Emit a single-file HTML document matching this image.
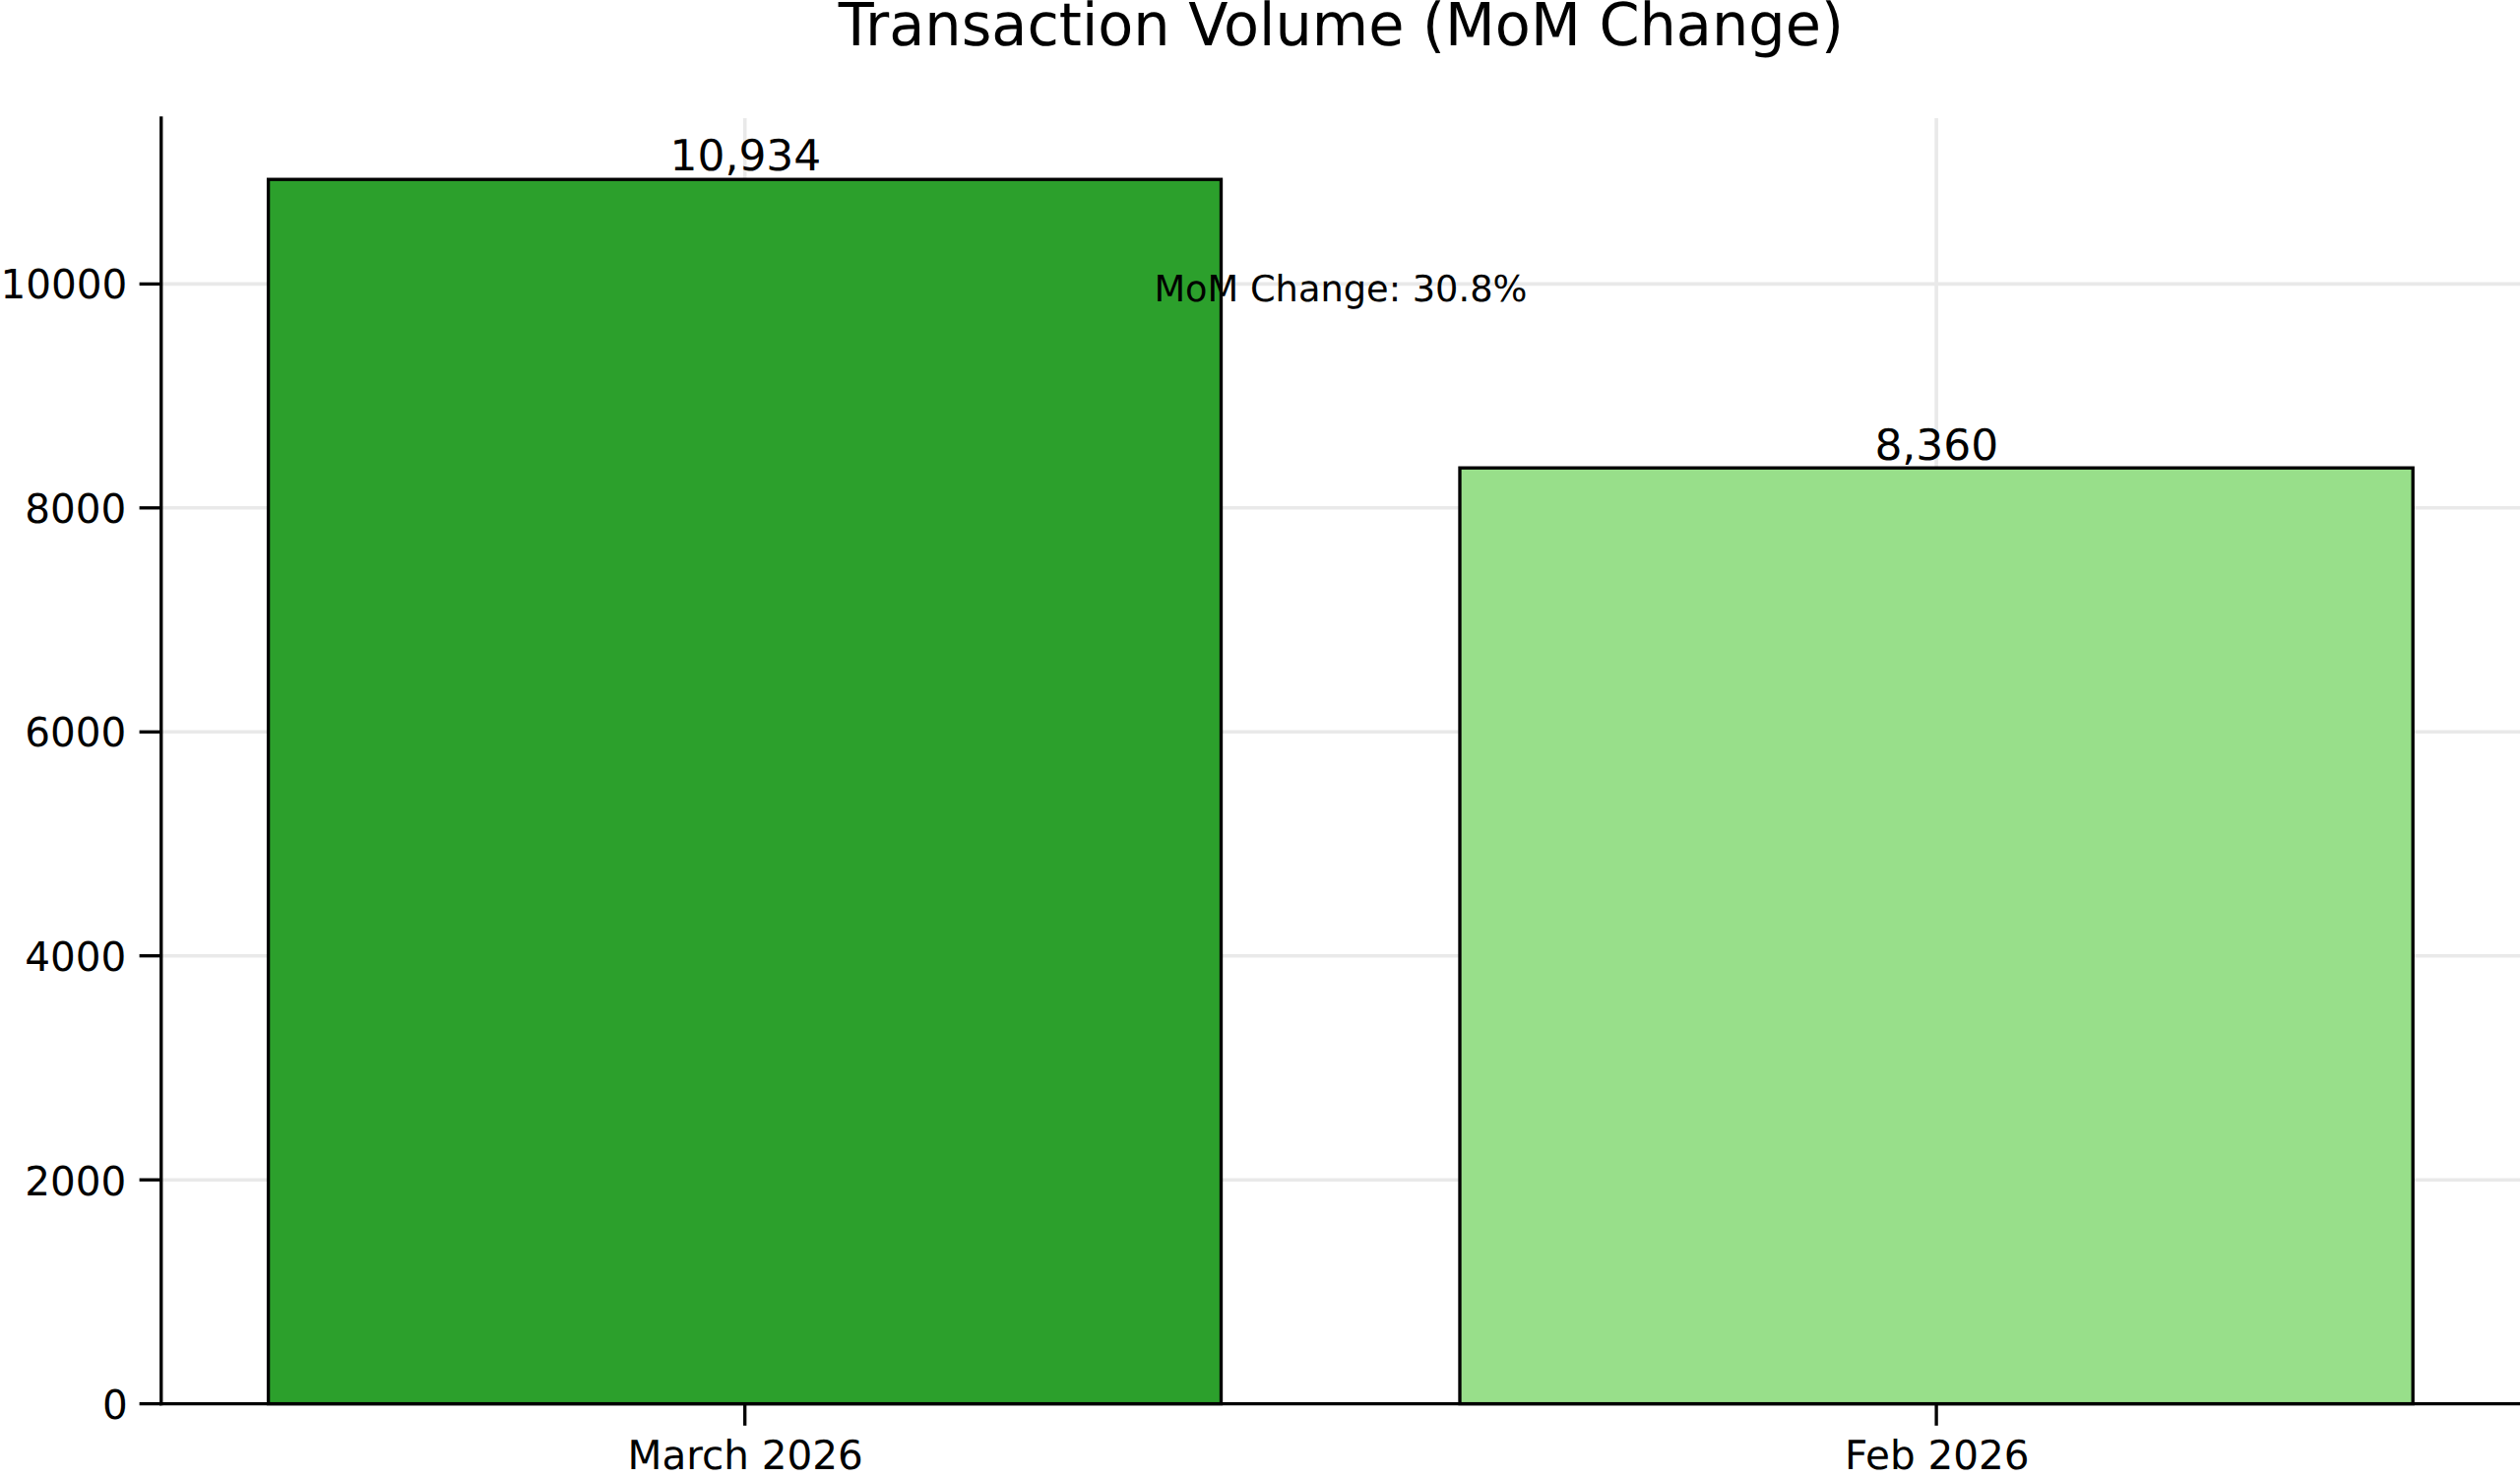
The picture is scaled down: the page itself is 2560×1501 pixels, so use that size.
<!DOCTYPE html>
<html lang="en">
<head>
<meta charset="utf-8">
<title>Transaction Volume (MoM Change)</title>
<style>
html,body{margin:0;padding:0;background:#fff;}
body{width:2560px;height:1501px;overflow:hidden;}
svg{display:block;}
text{text-rendering:geometricPrecision;font-family:"DejaVu Sans","Liberation Sans",sans-serif;fill:#000;}
</style>
</head>
<body>
<svg width="2560" height="1501" viewBox="0 0 2560 1501">
<rect width="2560" height="1501" fill="#ffffff"/>
<!-- grid -->
<g stroke="#e9e9e9" stroke-width="3.6" fill="none">
<line x1="756.7" y1="119.9" x2="756.7" y2="1425.6"/>
<line x1="1967.1" y1="119.9" x2="1967.1" y2="1425.6"/>
<line x1="163.75" y1="288.4" x2="2560" y2="288.4"/>
<line x1="163.75" y1="515.8" x2="2560" y2="515.8"/>
<line x1="163.75" y1="743.3" x2="2560" y2="743.3"/>
<line x1="163.75" y1="970.7" x2="2560" y2="970.7"/>
<line x1="163.75" y1="1198.2" x2="2560" y2="1198.2"/>
</g>
<!-- bars -->
<rect x="272.6" y="182.2" width="967.9" height="1243.4" fill="#2ca02c" stroke="#000" stroke-width="3.33"/>
<rect x="1483.0" y="475.2" width="968.2" height="950.4" fill="#98df8a" stroke="#000" stroke-width="3.33"/>
<!-- ticks -->
<g stroke="#000" stroke-width="3.33" fill="none">
<line x1="141.6" y1="288.4" x2="163.75" y2="288.4"/>
<line x1="141.6" y1="515.8" x2="163.75" y2="515.8"/>
<line x1="141.6" y1="743.3" x2="163.75" y2="743.3"/>
<line x1="141.6" y1="970.7" x2="163.75" y2="970.7"/>
<line x1="141.6" y1="1198.2" x2="163.75" y2="1198.2"/>
<line x1="141.6" y1="1425.6" x2="163.75" y2="1425.6"/>
<line x1="756.7" y1="1425.6" x2="756.7" y2="1447.8"/>
<line x1="1967.1" y1="1425.6" x2="1967.1" y2="1447.8"/>
<!-- spines -->
<line x1="163.75" y1="118.2" x2="163.75" y2="1427.3"/>
<line x1="162.1" y1="1425.6" x2="2562" y2="1425.6"/>
</g>
<!-- tick labels -->
<g font-size="41" text-anchor="end">
<text transform="translate(129.3,303.4) scale(0.988,1)">10000</text>
<text transform="translate(128.3,530.8) scale(0.987,1)">8000</text>
<text transform="translate(128.3,758.3) scale(0.987,1)">6000</text>
<text transform="translate(128.3,985.7) scale(0.987,1)">4000</text>
<text transform="translate(128.3,1213.6) scale(0.987,1)">2000</text>
<text transform="translate(129.7,1440.6) scale(0.987,1)">0</text>
</g>
<g font-size="40.8" text-anchor="middle">
<text transform="translate(757.2,1492) scale(0.992,1)">March 2026</text>
<text transform="translate(1967.7,1492) scale(0.992,1)">Feb 2026</text>
</g>
<!-- value labels -->
<g font-size="43.5" text-anchor="middle">
<text transform="translate(757.4,173) scale(1.01,1)">10,934</text>
<text transform="translate(1967.3,466.6) scale(1.01,1)">8,360</text>
</g>
<text transform="translate(1361.9,306.2) scale(0.996,1)" font-size="36.9" text-anchor="middle">MoM Change: 30.8%</text>
<text transform="translate(1362.3,46.1) scale(1,1.022)" x="0" y="0" font-size="58.9" text-anchor="middle">Transaction Volume (MoM Change)</text>
</svg>
</body>
</html>
